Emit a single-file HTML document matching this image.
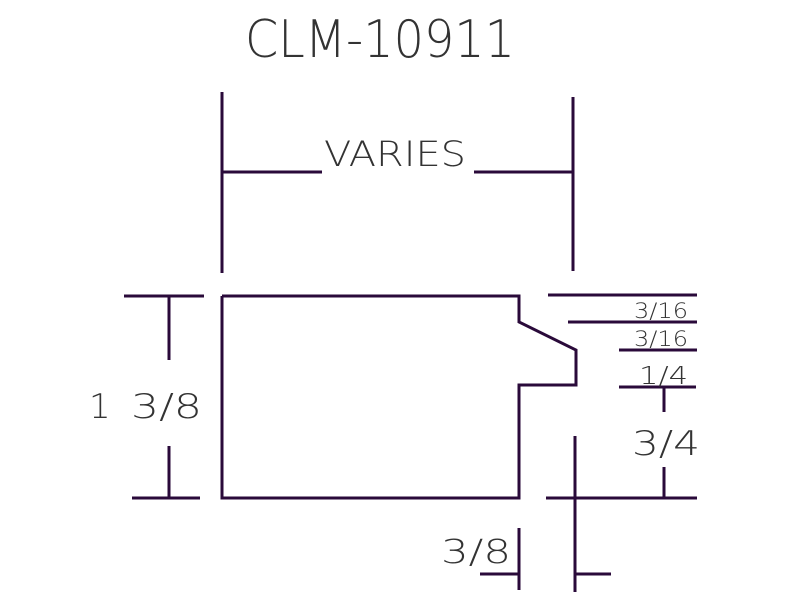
<!DOCTYPE html>
<html><head><style>html,body{margin:0;padding:0;background:#fff}svg{display:block}</style></head>
<body>
<svg width="800" height="600" viewBox="0 0 800 600" xmlns="http://www.w3.org/2000/svg">
<g stroke="#2a0a3a" stroke-width="3" fill="none">
<line x1="222" y1="92" x2="222" y2="273"/>
<line x1="573" y1="97" x2="573" y2="271"/>
<line x1="222" y1="172" x2="322" y2="172"/>
<line x1="474" y1="172" x2="573" y2="172"/>
<polyline points="222,296 519,296 519,322 576,350 576,385 519,385 519,498 222,498 222,296"/>
<line x1="124" y1="296" x2="204" y2="296"/>
<line x1="132" y1="498" x2="200" y2="498"/>
<line x1="169" y1="296" x2="169" y2="360"/>
<line x1="169" y1="446" x2="169" y2="498"/>
<line x1="548" y1="295" x2="697" y2="295"/>
<line x1="568" y1="322" x2="697" y2="322"/>
<line x1="619" y1="350" x2="697" y2="350"/>
<line x1="619" y1="387" x2="696" y2="387"/>
<line x1="664" y1="387" x2="664" y2="412"/>
<line x1="664" y1="467" x2="664" y2="498"/>
<line x1="546" y1="498" x2="697" y2="498"/>
<line x1="575" y1="436" x2="575" y2="592"/>
<line x1="575" y1="574" x2="611" y2="574"/>
<line x1="519" y1="528" x2="519" y2="590"/>
<line x1="480" y1="574" x2="519" y2="574"/>
</g>
<g font-family="'DejaVu Sans ExtraLight', 'DejaVu Sans', 'Liberation Sans', sans-serif" font-weight="200" fill="#333">
<text x="245" y="57" font-size="52" textLength="270" lengthAdjust="spacingAndGlyphs">CLM-10911</text>
<text x="324" y="166" font-size="35" textLength="142" lengthAdjust="spacingAndGlyphs">VARIES</text>
<text x="89" y="418" font-size="34">1</text>
<text x="131" y="418" font-size="34" textLength="71" lengthAdjust="spacingAndGlyphs">3/8</text>
<text x="634" y="318" font-size="21" textLength="54" lengthAdjust="spacingAndGlyphs">3/16</text>
<text x="634" y="346" font-size="21" textLength="54" lengthAdjust="spacingAndGlyphs">3/16</text>
<text x="639" y="384" font-size="25" textLength="49" lengthAdjust="spacingAndGlyphs">1/4</text>
<text x="632" y="455" font-size="34" textLength="68" lengthAdjust="spacingAndGlyphs">3/4</text>
<text x="441" y="563" font-size="33" textLength="70" lengthAdjust="spacingAndGlyphs">3/8</text>
</g>
</svg>
</body></html>
